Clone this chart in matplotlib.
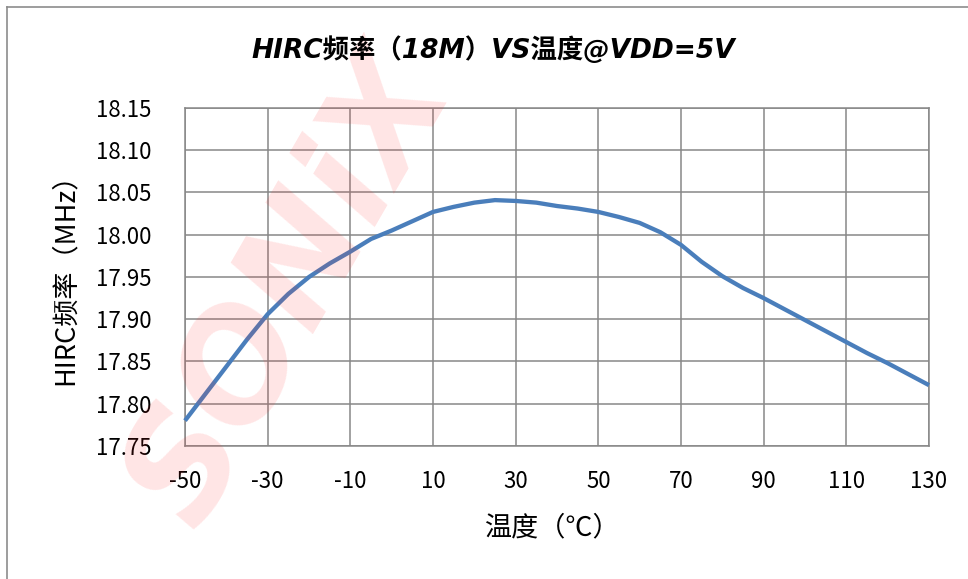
import numpy as np
import matplotlib
matplotlib.use("Agg")
import matplotlib.pyplot as plt
from matplotlib.lines import Line2D

# HIRC 18M frequency vs temperature, VDD = 5V
temps = [-50, -45, -40, -35, -30, -25, -20, -15, -10, -5, 0, 5, 10, 15, 20, 25, 30, 35, 40, 45,
         50, 55, 60, 65, 70, 75, 80, 85, 90, 95, 100, 105, 110, 115, 120, 125, 130]
freq_mhz = [17.780, 17.812, 17.844, 17.876, 17.906, 17.930, 17.950, 17.966, 17.980, 17.995, 18.005,
            18.016, 18.027, 18.033, 18.038, 18.041, 18.040, 18.038, 18.034, 18.031,
            18.027, 18.021, 18.014, 18.003, 17.988, 17.968, 17.951, 17.937, 17.925, 17.912,
            17.899, 17.886, 17.873, 17.860, 17.848, 17.835, 17.822]

x_ticks = [-50, -30, -10, 10, 30, 50, 70, 90, 110, 130]
y_ticks = [17.75, 17.80, 17.85, 17.90, 17.95, 18.00, 18.05, 18.10, 18.15]

title = "HIRC频率（18M）VS温度@VDD=5V"
x_label = "温度（℃）"
y_label = "HIRC频率（MHz）"

plt.rcParams["font.family"] = ["Noto Sans CJK SC", "DejaVu Sans"]
plt.rcParams["axes.unicode_minus"] = False

fig = plt.figure(figsize=(9.68, 5.79), dpi=100)
fig.patch.set_facecolor("white")

# faint logo watermark behind the chart
fig.text(0.30, 0.50, "SONiX", fontsize=105, fontweight="bold", style="italic",
         color="#ff2a2a", alpha=0.12, rotation=60, ha="center", va="center",
         family="DejaVu Sans", zorder=0)

# chart area border
fig.add_artist(Line2D([7 / 968, 7 / 968], [0, 1 - 7 / 579], color="#8c8c8c", lw=1.2))
fig.add_artist(Line2D([7 / 968, 1], [1 - 7 / 579, 1 - 7 / 579], color="#8c8c8c", lw=1.2))

ax = fig.add_axes([185 / 968, 1 - 446 / 579, 744 / 968, 338 / 579])
ax.patch.set_alpha(0)

ax.plot(temps, freq_mhz, color="#4a7ebb", lw=3.1, solid_joinstyle="round",
        solid_capstyle="butt", zorder=3, clip_on=False)

ax.set_xlim(-50, 130)
ax.set_ylim(17.75, 18.15)
ax.set_xticks(x_ticks)
ax.set_yticks(y_ticks)
ax.set_yticklabels([f"{v:.2f}" for v in y_ticks])
ax.grid(True, color="#878787", lw=1.1)
ax.set_axisbelow(True)
for s in ax.spines.values():
    s.set_color("#878787")
    s.set_linewidth(1.1)
ax.tick_params(length=0, labelsize=16, colors="black")
ax.tick_params(axis="x", pad=17)
ax.tick_params(axis="y", pad=24)

fig.text(0.510, 1 - 50 / 579, title, fontsize=19, fontweight="bold", style="italic",
         family=["DejaVu Sans", "Noto Sans CJK SC"], ha="center", va="center")
fig.text(552 / 968, 1 - 528 / 579, x_label, fontsize=19.5, ha="center", va="center")
fig.text(65 / 968, 1 - 272 / 579, y_label, fontsize=19.5, rotation=90, ha="center", va="center")

fig.savefig("out.png", dpi=100)
